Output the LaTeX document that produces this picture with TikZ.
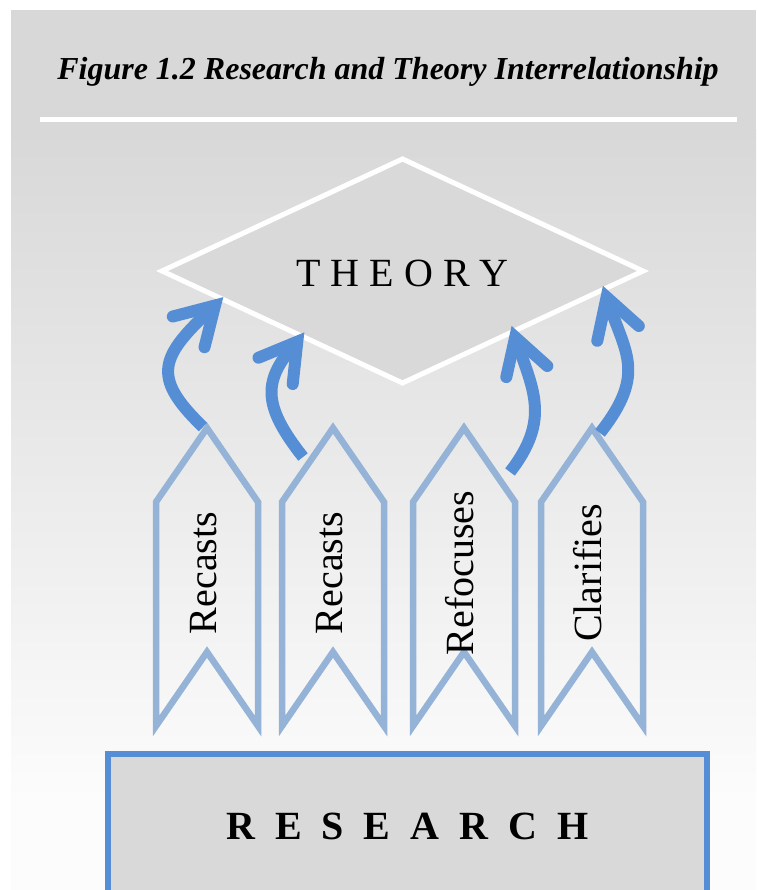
\documentclass[tikz,border=0pt]{standalone}
\usepackage{fontspec}
\setmainfont{Liberation Serif}

\definecolor{panelgray}{HTML}{D8D8D8}
\definecolor{panellight}{HTML}{FCFCFC}
\definecolor{boxgray}{HTML}{D9D9D9}
\definecolor{flowblue}{HTML}{558ED5}
\definecolor{chevblue}{HTML}{95B3D7}

\tikzset{
  headline/.style={anchor=base, inner sep=0pt, font=\bfseries\itshape\fontsize{32}{38}\selectfont},
  chevron/.style={draw=chevblue, line width=6.5pt, line join=miter},
  chevlabel/.style={rotate=90, anchor=base, inner sep=0pt, font=\fontsize{40}{48}\selectfont},
  flow/.style={draw=flowblue, line width=12pt, line cap=butt},
  flowhead/.style={draw=flowblue, line width=12pt, line cap=round, line join=miter},
  diamondedge/.style={draw=white, line width=5pt, fill=boxgray, line join=miter},
  theorylabel/.style={inner sep=0pt, font=\fontsize{40}{48}\selectfont},
  researchbox/.style={rectangle, draw=flowblue, line width=6pt, fill=boxgray,
    minimum width=598.5pt, minimum height=144pt, inner sep=0pt,
    font=\bfseries\fontsize{40}{48}\selectfont},
}

\begin{document}
\begin{tikzpicture}[x=1pt, y=-1pt]
  % page and grey panel with its soft fade towards the bottom
  \path[use as bounding box, fill=white] (0,0) rectangle (756,890);
  \fill[panelgray] (11,10) rectangle (756,131);
  \shade[top color=panelgray, bottom color=panellight] (11,130) rectangle (756,800);
  \fill[panellight] (11,799.5) rectangle (756,890);

  % heading and rule
  \node[headline] (title) at (388,80) {Figure 1.2 Research and Theory Interrelationship};
  \draw[white, line width=5pt] (40,120) -- (737,120);

  % theory diamond
  \coordinate (dtop) at (402.5,159);
  \coordinate (dright) at (643,271);
  \coordinate (dbottom) at (402.5,383);
  \coordinate (dleft) at (162,271);
  \draw[diamondedge] (dtop) -- (dright) -- (dbottom) -- (dleft) -- cycle;
  \node[theorylabel] (theory) at (402.5,273) {T H E O R Y};

  % research base
  \node[researchbox] (research) at (407.25,826) {R~~E~~S~~E~~A~~R~~C~~H};

  % upward chevrons with their labels
  \foreach \cx/\nm/\lbl in {207/ca/Recasts, 333/cb/Recasts, 464/cc/Refocuses, 592/cd/Clarifies}{
    \draw[chevron] (\cx,428) -- ({\cx+51},502) -- ({\cx+51},726) -- (\cx,652)
      -- ({\cx-51},726) -- ({\cx-51},502) -- cycle;
    \node[chevlabel] (\nm) at ({\cx+9},573) {\lbl};
  }

  % ends of the curved arrows
  \coordinate (t1) at (203,427);   \coordinate (p1) at (215,305.5);
  \coordinate (a1) at (172.8,316.5); \coordinate (b1) at (204.5,347.2);
  \coordinate (t2) at (303,457);   \coordinate (p2) at (297.3,341.7);
  \coordinate (a2) at (258.5,357.7); \coordinate (b2) at (292.7,384);
  \coordinate (t3) at (510,472);   \coordinate (p3) at (515.2,337.2);
  \coordinate (a3) at (506.3,377.1); \coordinate (b3) at (547.3,366);
  \coordinate (t4) at (600,433);   \coordinate (p4) at (606.6,297.2);
  \coordinate (a4) at (597.3,340.8); \coordinate (b4) at (638.8,326);

  % curved arrows from the chevrons into the theory diamond
  \draw[flow] (t1) .. controls (150,376) and (160,356) .. (p1);
  \draw[flowhead] (a1) -- (p1) -- (b1);
  \draw[flow] (t2) .. controls (262,405) and (262,380) .. (p2);
  \draw[flowhead] (a2) -- (p2) -- (b2);
  \draw[flow] (t3) .. controls (552,418) and (532,388) .. (p3);
  \draw[flowhead] (a3) -- (p3) -- (b3);
  \draw[flow] (t4) .. controls (648,372) and (624,352) .. (p4);
  \draw[flowhead] (a4) -- (p4) -- (b4);
\end{tikzpicture}
\end{document}
